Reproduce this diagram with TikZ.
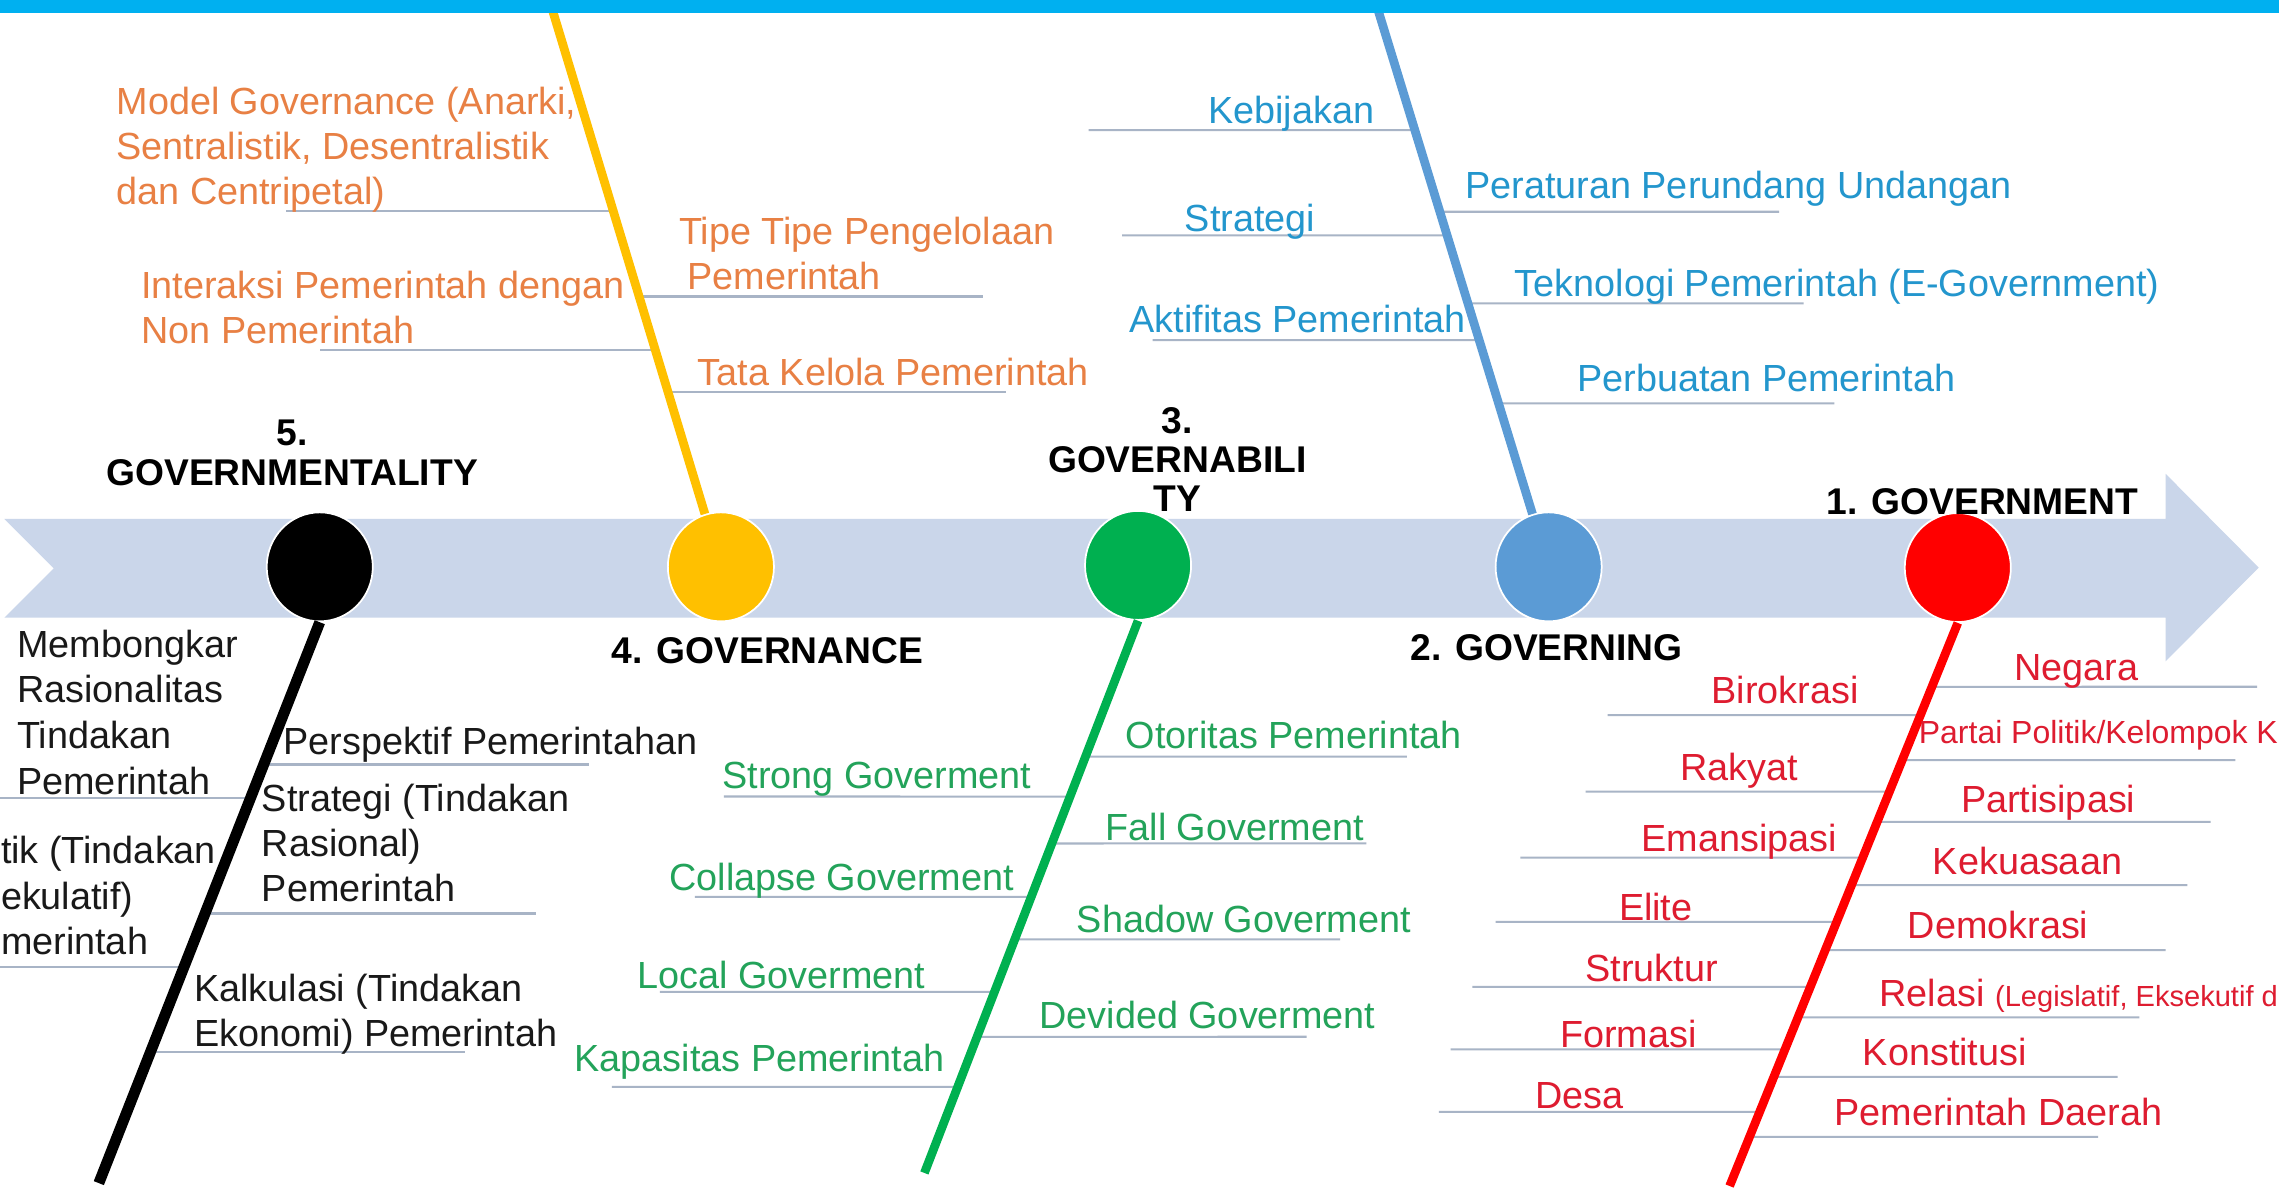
\documentclass[tikz,border=0pt]{standalone}
\usepackage{fontspec}
\setmainfont{Liberation Sans}
\usetikzlibrary{shapes.geometric}
\definecolor{topbar}{RGB}{0,176,240}
\definecolor{band}{RGB}{202,214,234}
\definecolor{cyel}{RGB}{255,192,0}
\definecolor{cgrn}{RGB}{0,176,80}
\definecolor{cblu}{RGB}{91,155,213}
\definecolor{cred}{RGB}{255,0,0}
\definecolor{tor}{RGB}{232,128,68}
\definecolor{tbl}{RGB}{35,150,205}
\definecolor{tgr}{RGB}{35,163,90}
\definecolor{trd}{RGB}{222,28,48}
\definecolor{tbk}{RGB}{25,25,25}
\definecolor{bonegray}{RGB}{168,180,198}
\newcommand\mybone[4]{\draw[bone] (intersection cs:first line={(#1)--(#2)}, second line={(0,#3)--(1,#3)}) -- (#4,#3);}
\begin{document}
\begin{tikzpicture}[x=1pt,y=-1pt,
  txt/.style={inner sep=0pt, anchor=base west, font=\fontsize{26}{31}\selectfont},
  mtxt/.style={inner sep=0pt, anchor=north west, align=left, font=\fontsize{26}{31}\selectfont},
  ttl/.style={inner sep=0pt, anchor=base, font=\fontsize{25.6}{27}\selectfont\bfseries, text=black},
  ttlm/.style={inner sep=0pt, anchor=north, align=center, font=\fontsize{25.6}{27}\selectfont\bfseries, text=black},
  bone/.style={draw=bonegray, line width=1.4pt},
  spine/.style={line width=6pt},
  dot/.style={ellipse, minimum width=73pt, minimum height=75pt, inner sep=0pt, draw=white, line width=1.2pt}]
\useasboundingbox (0,0) rectangle (1568,818);
\fill[white] (0,0) rectangle (1568,818);
\clip (0,0) rectangle (1568,818);
% band arrow
\fill[band] (3,357) -- (1490,357) -- (1490,326) -- (1554,390.5) -- (1490,455) -- (1490,425) -- (3,425) -- (37,391) -- cycle;
% circles
\node[dot, fill=black] (kc) at (220,390) {};
\node[dot, fill=cyel] (yc) at (496,390) {};
\node[dot, fill=cgrn] (gc) at (783,389) {};
\node[dot, fill=cblu] (bc) at (1065.5,390) {};
\node[dot, fill=cred] (rc) at (1347,390.5) {};
% spine ends
\coordinate (Yt) at (378,0);
\coordinate (Bt) at (946,0);
\coordinate (Kb) at (68,814);
\coordinate (Gb) at (636,807);
\coordinate (Rb) at (1190,816);
% bones yellow
\mybone{Yt}{yc.center}{145}{197}
\mybone{Yt}{yc.center}{241}{220}
\mybone{Yt}{yc.center}{204}{676}
\mybone{Yt}{yc.center}{270}{692}
% bones blue
\mybone{Bt}{bc.center}{89.5}{749}
\mybone{Bt}{bc.center}{162}{772}
\mybone{Bt}{bc.center}{234}{793}
\mybone{Bt}{bc.center}{145.7}{1224}
\mybone{Bt}{bc.center}{208.8}{1241}
\mybone{Bt}{bc.center}{277.6}{1262}
% bones black
\mybone{kc.south}{Kb}{549}{0}
\mybone{kc.south}{Kb}{526}{405}
\mybone{kc.south}{Kb}{628.5}{368.5}
\mybone{kc.south}{Kb}{665}{0}
\mybone{kc.south}{Kb}{723.7}{320}
% bones green
\mybone{gc.south}{Gb}{520.6}{968}
\mybone{gc.south}{Gb}{548}{498}
\mybone{gc.south}{Gb}{580.3}{940}
\mybone{gc.south}{Gb}{617}{478}
\mybone{gc.south}{Gb}{646.3}{922}
\mybone{gc.south}{Gb}{682.4}{454}
\mybone{gc.south}{Gb}{713.3}{899}
\mybone{gc.south}{Gb}{747.8}{421}
% bones red
\mybone{rc.south}{Rb}{472.5}{1553}
\mybone{rc.south}{Rb}{492}{1106}
\mybone{rc.south}{Rb}{523}{1538}
\mybone{rc.south}{Rb}{544.7}{1091}
\mybone{rc.south}{Rb}{565.4}{1521}
\mybone{rc.south}{Rb}{590}{1046}
\mybone{rc.south}{Rb}{609}{1505}
\mybone{rc.south}{Rb}{634.2}{1029}
\mybone{rc.south}{Rb}{653.7}{1490}
\mybone{rc.south}{Rb}{679}{1013}
\mybone{rc.south}{Rb}{700}{1472}
\mybone{rc.south}{Rb}{722}{998}
\mybone{rc.south}{Rb}{740.9}{1457}
\mybone{rc.south}{Rb}{765}{990}
\mybone{rc.south}{Rb}{782.2}{1443.5}
% spines
\draw[spine, cyel] (Yt) -- (yc);
\draw[spine, cblu] (Bt) -- (bc);
\draw[spine, black, line width=7.5pt] (kc.south) -- (Kb);
\draw[spine, cgrn] (gc.south) -- (Gb);
\draw[spine, cred] (rc.south) -- (Rb);
% top bar
\fill[topbar] (0,0) rectangle (1568,9);
% titles
\node[ttlm] (t5) at (201,289) {5.\\GOVERNMENTALITY};
\node[ttl] (t4) at (528,456.3) {4. GOVERNANCE};
\node[ttlm] (t3) at (810,280) {3.\\GOVERNABILI\\TY};
\node[ttl] (t2) at (1064,454.3) {2. GOVERNING};
\node[ttl] (t1) at (1364,353.8) {1. GOVERNMENT};
% orange
\node[mtxt, text=tor] (o1) at (80,60) {Model Governance (Anarki,\\Sentralistik, Desentralistik\\dan Centripetal)};
\node[mtxt, text=tor] (o2) at (97,186) {Interaksi Pemerintah dengan\\Non Pemerintah};
\node[mtxt, text=tor] (o3) at (467,149) {Tipe Tipe Pengelolaan\\\hspace*{6pt}Pemerintah};
\node[txt, text=tor] (o4) at (480,265.3) {Tata Kelola Pemerintah};
% blue
\node[txt, text=tbl] (b1) at (831,85) {Kebijakan};
\node[txt, text=tbl] (b2) at (815,159.3) {Strategi};
\node[txt, text=tbl] (b3) at (777,229) {Aktifitas Pemerintah};
\node[txt, text=tbl] (b4) at (1008,136.6) {Peraturan Perundang Undangan};
\node[txt, text=tbl] (b5) at (1042,204) {Teknologi Pemerintah (E-Government)};
\node[txt, text=tbl] (b6) at (1085,269.7) {Perbuatan Pemerintah};
% black
\node[mtxt, text=tbk, font=\fontsize{26}{31.5}\selectfont] (k1) at (11.7,433) {Membongkar\\Rasionalitas\\Tindakan\\Pemerintah};
\node[txt, text=tbk] (k2) at (195,519) {Perspektif Pemerintahan};
\node[mtxt, text=tbk] (k3) at (180,539) {Strategi (Tindakan\\Rasional)\\Pemerintah};
\node[mtxt, text=tbk, font=\fontsize{26}{31.5}\selectfont] (k4) at (0.5,575) {tik (Tindakan\\ekulatif)\\merintah};
\node[mtxt, text=tbk] (k5) at (133.4,670) {Kalkulasi (Tindakan\\Ekonomi) Pemerintah};
% green
\node[txt, text=tgr] (g1) at (774.3,515) {Otoritas Pemerintah};
\node[txt, text=tgr] (g2) at (497,542.6) {Strong Goverment};
\node[txt, text=tgr] (g3) at (760.5,578) {Fall Goverment};
\node[txt, text=tgr] (g4) at (460.4,612.5) {Collapse Goverment};
\node[txt, text=tgr] (g5) at (740.7,641.3) {Shadow Goverment};
\node[txt, text=tgr] (g6) at (438.6,680.3) {Local Goverment};
\node[txt, text=tgr] (g7) at (715,707.7) {Devided Goverment};
\node[txt, text=tgr] (g8) at (395.2,737.5) {Kapasitas Pemerintah};
% red
\node[txt, text=trd] (r1) at (1385.6,468) {Negara};
\node[txt, text=trd] (r2) at (1177.4,484.3) {Birokrasi};
\node[txt, text=trd, font=\fontsize{22}{26}\selectfont] (r3) at (1320,511.4) {Partai Politik/Kelompok K};
\node[txt, text=trd] (r4) at (1156,536.8) {Rakyat};
\node[txt, text=trd] (r5) at (1349,558.8) {Partisipasi};
\node[txt, text=trd] (r6) at (1129.2,586) {Emansipasi};
\node[txt, text=trd] (r7) at (1329.7,602) {Kekuasaan};
\node[txt, text=trd] (r8) at (1113.7,633) {Elite};
\node[txt, text=trd] (r9) at (1312.4,645.8) {Demokrasi};
\node[txt, text=trd] (r10) at (1090.6,675.6) {Struktur};
\node[txt, text=trd] (r11) at (1293,692.8) {Relasi {\fontsize{20}{24}\selectfont(Legislatif, Eksekutif d}};
\node[txt, text=trd] (r12) at (1073.2,720.5) {Formasi};
\node[txt, text=trd] (r13) at (1281.5,733) {Konstitusi};
\node[txt, text=trd] (r14) at (1056,762.8) {Desa};
\node[txt, text=trd] (r15) at (1262,774.3) {Pemerintah Daerah};
\end{tikzpicture}
\end{document}
